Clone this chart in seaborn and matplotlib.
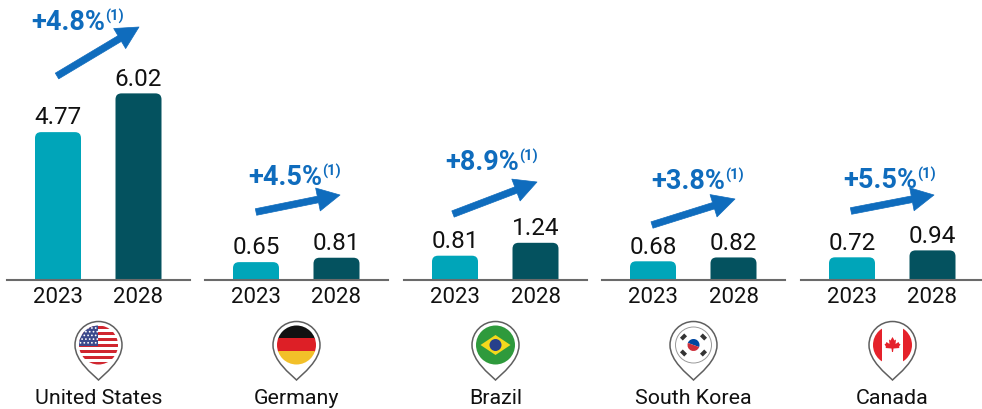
import numpy as np
import pandas as pd
import matplotlib
matplotlib.use('Agg')
import matplotlib.pyplot as plt
import seaborn as sns
from matplotlib.patches import Circle, FancyArrowPatch, FancyBboxPatch, PathPatch, Polygon, Rectangle, Wedge
from matplotlib.path import Path

# Data
countries = ['United States', 'Germany', 'Brazil', 'South Korea', 'Canada']
years = ['2023', '2028']
values_2023 = [4.77, 0.65, 0.81, 0.68, 0.72]
values_2028 = [6.02, 0.81, 1.24, 0.82, 0.94]
growth = ['+4.8%', '+4.5%', '+8.9%', '+3.8%', '+5.5%']

# Layout in pixels
W, H = 982, 409
base_y = 280
panel_left = [7, 205, 404, 602, 801]
panel_w = 183
bar_step = 80.5
bar_w = 46
px_per_unit = [31, 27.5, 30, 27.5, 31.5]
growth_xy = [(31, 30), (248, 185), (445, 170), (651, 189), (843, 188)]
arrows = [((57, 76), (139, 27)), ((256, 212), (340, 195)), ((453, 214), (537, 182)),
          ((652, 225), (735, 199)), ((851, 211), (934, 195))]

TEAL = '#00a5b9'
DARK = '#04525f'
BLUE = '#0f6cbd'
INK = '#111111'

sns.set_style('white')
plt.rcParams['font.family'] = ['Roboto', 'DejaVu Sans']

fig = plt.figure(figsize=(W / 100, H / 100), dpi=100)

for i, country in enumerate(countries):
    ax = fig.add_axes([panel_left[i] / W, 1 - base_y / H, panel_w / W, base_y / H])
    df = pd.DataFrame({'year': years, 'value': [values_2023[i], values_2028[i]]})
    sns.barplot(data=df, x='year', y='value', hue='year', palette=[TEAL, DARK], saturation=1,
                width=bar_w / bar_step, legend=False, ax=ax)
    ax.set_xlim(-51 / bar_step, 1 + 51.5 / bar_step)
    ax.set_ylim(0, base_y / px_per_unit[i])

    # swap the square bars for rounded ones
    r = 6 / bar_step
    for bar in list(ax.patches):
        x, w, h = bar.get_x(), bar.get_width(), bar.get_height()
        color = bar.get_facecolor()
        bar.set_visible(False)
        ax.add_patch(FancyBboxPatch((x, -1), w, h + 1, boxstyle=f'round,pad=0,rounding_size={r}',
                                    mutation_aspect=bar_step / px_per_unit[i],
                                    fc=color, ec='none'))
        ax.annotate(f'{h:.2f}', (x + w / 2, h), xytext=(0, 5.5), textcoords='offset points',
                    ha='center', va='baseline', fontsize=17.5, color=INK)

    ax.set_xlabel('')
    ax.set_ylabel('')
    ax.set_yticks([])
    ax.tick_params(axis='x', length=0, pad=5, labelsize=16, labelcolor=INK)
    sns.despine(ax=ax, left=True)
    ax.spines['bottom'].set_color('#6a6a6a')
    ax.spines['bottom'].set_linewidth(1.5)
    ax.patch.set_alpha(0)

# overlay in pixel coordinates for arrows, growth labels and pins
ov = fig.add_axes([0, 0, 1, 1])
ov.set_xlim(0, W)
ov.set_ylim(H, 0)
ov.axis('off')

for (x, y), text, (start, end) in zip(growth_xy, growth, arrows):
    t = ov.text(x, y, text, fontsize=19.5, fontweight='bold', color=BLUE, ha='left', va='baseline')
    box = t.get_window_extent(fig.canvas.get_renderer())
    ov.text(box.x1 + 0.5, y - 9, '(1)', fontsize=10.5, color=BLUE, ha='left', va='baseline', fontweight='bold')
    ov.add_patch(FancyArrowPatch(start, end, arrowstyle='simple,head_length=1.35,head_width=1.4,tail_width=0.4',
                                 mutation_scale=12, fc=BLUE, ec=BLUE, lw=0.5, shrinkA=0, shrinkB=0))


def pin_path(cx, cy=345, r=23.5, tip=380):
    k = 0.5523 * r
    verts = [(cx, tip),
             (cx - 6, tip - 6), (cx - r, cy + 16), (cx - r, cy),
             (cx - r, cy - k), (cx - k, cy - r), (cx, cy - r),
             (cx + k, cy - r), (cx + r, cy - k), (cx + r, cy),
             (cx + r, cy + 16), (cx + 6, tip - 6), (cx, tip),
             (cx, tip)]
    codes = [Path.MOVETO] + [Path.CURVE4] * 12 + [Path.CLOSEPOLY]
    return Path(verts, codes)


def clip_add(patch, clip):
    ov.add_patch(patch)
    patch.set_clip_path(clip)
    return patch


def flag_us(cx, cy, c):
    clip_add(Rectangle((cx - 20, cy - 20), 40, 40, fc='white', ec='none'), c)
    for k in range(7):
        clip_add(Rectangle((cx - 20, cy - 19 + k * 6), 40, 3, fc='#d0262f', ec='none'), c)
    clip_add(Rectangle((cx - 20, cy - 20), 20, 21, fc='#3c4a8c', ec='none'), c)
    for row in range(5):
        for col in range(5):
            star = Circle((cx - 18 + col * 3.8 + (row % 2) * 1.6, cy - 17 + row * 3.7), 0.9, fc='white', ec='none')
            clip_add(star, c)


def flag_de(cx, cy, c):
    for k, col in enumerate(['#111111', '#dd1f26', '#f2c029']):
        clip_add(Rectangle((cx - 20, cy - 20 + k * 13), 40, 14, fc=col, ec='none'), c)


def flag_br(cx, cy, c):
    clip_add(Rectangle((cx - 20, cy - 20), 40, 40, fc='#2e9a3c', ec='none'), c)
    ov.add_patch(Polygon([(cx - 15, cy), (cx, cy - 10), (cx + 15, cy), (cx, cy + 10)], fc='#f4d81c', ec='none'))
    ov.add_patch(Circle((cx, cy), 6, fc='#27408b', ec='none'))


def flag_kr(cx, cy, c):
    ov.add_patch(Circle((cx, cy), 18, fc='white', ec='#999999', lw=0.7))
    ov.add_patch(Wedge((cx, cy), 6, 200, 20, fc='#0047a0', ec='none'))
    ov.add_patch(Wedge((cx, cy), 6, 20, 200, fc='#cd2e3a', ec='none'))
    for sx, sy in [(-1, -1), (1, -1), (-1, 1), (1, 1)]:
        angle = 45 if sx == sy else -45
        ov.add_patch(Rectangle((cx + sx * 10 - 3, cy + sy * 8 - 2), 6, 4, angle=-angle, rotation_point='center',
                               fc='#333333', ec='none'))


def flag_ca(cx, cy, c):
    clip_add(Rectangle((cx - 20, cy - 20), 9.5, 40, fc='#e5222b', ec='none'), c)
    clip_add(Rectangle((cx + 10.5, cy - 20), 9.5, 40, fc='#e5222b', ec='none'), c)
    leaf = [(0, -8), (2, -4.5), (3.5, -5.5), (3, -1), (6, -3), (7, -1), (8, -1), (6.5, 2), (7, 3),
            (1, 3.5), (0.5, 7), (-0.5, 7), (-1, 3.5), (-7, 3), (-6.5, 2), (-8, -1), (-7, -1), (-6, -3),
            (-3, -1), (-3.5, -5.5), (-2, -4.5)]
    ov.add_patch(Polygon([(cx + a, cy + b) for a, b in leaf], fc='#e5222b', ec='none'))


flags = [flag_us, flag_de, flag_br, flag_kr, flag_ca]
for left, country, flag in zip(panel_left, countries, flags):
    cx = left + panel_w / 2
    ov.add_patch(PathPatch(pin_path(cx), fc='white', ec='#5f5f5f', lw=1.1))
    clip = Circle((cx, 345), 19.5, transform=ov.transData)
    flag(cx, 345, clip)
    ov.text(cx, 404, country, ha='center', va='baseline', fontsize=15.4, color=INK)

fig.savefig('out.png', dpi=100)
